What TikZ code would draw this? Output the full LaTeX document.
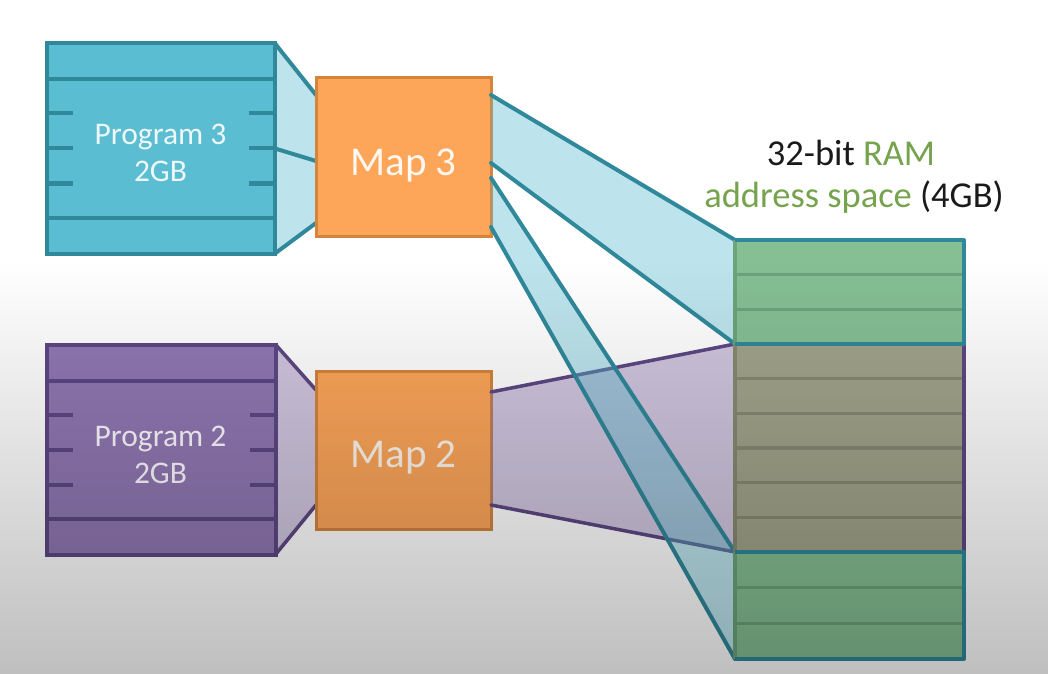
\documentclass[tikz,border=0pt]{standalone}
\usepackage{fontspec}
\setmainfont{Carlito}
\usetikzlibrary{calc,fadings}
\tikzfading[name=fadedown, top color=transparent!100, bottom color=transparent!0]
\definecolor{cyanF}{HTML}{5ABDD2}
\definecolor{cyanD}{HTML}{30899B}
\definecolor{purF}{HTML}{9178B3}
\definecolor{purD}{HTML}{5E4884}
\definecolor{orgF}{HTML}{FDA65A}
\definecolor{orgD}{HTML}{D5843C}
\definecolor{ramG}{HTML}{86BF94}
\definecolor{ramGl}{HTML}{6CA47B}
\definecolor{ramM}{HTML}{A2A48B}
\definecolor{ramMl}{HTML}{878A72}
\definecolor{ramtext}{HTML}{76A34E}
\definecolor{titletext}{HTML}{1A1A1A}
\definecolor{ptextA}{HTML}{EEF8FA}
\definecolor{ptextB}{HTML}{FFFAFF}
\definecolor{mtext}{HTML}{FFF8F0}
\begin{document}
\begin{tikzpicture}[x=1bp,y=-1bp,
  progbox/.style={draw, line width=4bp, minimum width=228bp, minimum height=210bp, inner sep=0pt, outer sep=0pt},
  mapbox/.style={draw=orgD, fill=orgF, line width=3bp, minimum width=175bp, minimum height=158bp, inner sep=0pt, outer sep=0pt},
  ptext/.style={anchor=base, inner sep=0pt, font=\fontsize{31.5bp}{37bp}\selectfont},
  mtextstyle/.style={anchor=base, inner sep=0pt, text=mtext, font=\fontsize{41bp}{48bp}\selectfont},
  ttext/.style={anchor=base, inner sep=0pt, text=titletext, font=\fontsize{36.5bp}{42bp}\selectfont},
  tealline/.style={draw=cyanD, line width=4bp, line cap=round, line join=round},
  purline/.style={draw=purD, line width=3.5bp, line cap=round, line join=round},
  cyanband/.style={fill=cyanF, fill opacity=0.4},
  purband/.style={fill=purF, fill opacity=0.42},
  ramline/.style={line width=3.5bp}
]
\useasboundingbox (0,0) rectangle (1051,674);
\fill[white] (0,0) rectangle (1051,674);

% reference nodes (geometry)
\node[progbox, draw=none] (p3) at (161,148.5) {};
\node[progbox, draw=none] (p2) at (161.5,449.5) {};
\node[mapbox, draw=none, fill=none] (m3) at (403.5,157) {};
\node[mapbox, draw=none, fill=none] (m2) at (403.5,450) {};
\node[inner sep=0pt, outer sep=0pt, minimum width=229bp, minimum height=419bp] (ram) at (849.5,449.5) {};

\coordinate (r1) at ($(ram.north west)+(0,104)$);
\coordinate (r1e) at ($(ram.north east)+(0,104)$);
\coordinate (r2) at ($(ram.north west)+(0,312)$);
\coordinate (r2e) at ($(ram.north east)+(0,312)$);

% funnels program -> map
\coordinate (a1) at ($(m2.north west)+(0,19)$);
\coordinate (a2) at ($(m2.south west)+(0,-24)$);
\fill[purband] (p2.north east) -- (a1) -- (a2) -- (p2.south east) -- cycle;
\draw[purline] (p2.north east) -- (a1);
\draw[purline] (p2.south east) -- (a2);

\coordinate (b1) at ($(m3.north west)+(0,17)$);
\coordinate (b2) at ($(m3.west)+(0,4)$);
\coordinate (b3) at ($(m3.south west)+(0,-13)$);
\fill[cyanband] (p3.north east) -- (b1) -- (b3) -- (p3.south east) -- cycle;
\draw[tealline] (p3.north east) -- (b1);
\draw[tealline] (p3.east) -- (b2);
\draw[tealline] (p3.south east) -- (b3);

% program boxes
\node[progbox, fill=cyanF, draw=cyanD] (p3box) at (p3) {};
\node[progbox, fill=purF, draw=purD] (p2box) at (p2) {};
\foreach \b/\c in {p3/cyanD, p2/purD} {
  \draw[\c, line width=4bp] ($(\b.west)+(0,-69)$) -- ($(\b.east)+(0,-69)$);
  \draw[\c, line width=4bp] ($(\b.west)+(0,69)$) -- ($(\b.east)+(0,69)$);
  \foreach \dy in {-35,0,35} {
    \draw[\c, line width=4bp] ($(\b.west)+(0,\dy)$) -- ++(26,0);
    \draw[\c, line width=4bp] ($(\b.east)+(0,\dy)$) -- ++(-26,0);
  }
}
\node[ptext, text=ptextA] (p3a) at (160.5,145) {Program 3};
\node[ptext, text=ptextA] (p3b) at (160.5,182) {2GB};
\node[ptext, text=ptextB] (p2a) at (160.5,446) {Program 2};
\node[ptext, text=ptextB] (p2b) at (160.5,483) {2GB};

% map boxes
\node[mapbox] (m3box) at (m3) {};
\node[mapbox] (m2box) at (m2) {};
\node[mtextstyle] (m3t) at (403.5,176) {Map 3};
\node[mtextstyle] (m2t) at (403.5,467) {Map 2};

% purple band map2 -> RAM
\coordinate (c1) at ($(m2.north east)+(0,21)$);
\coordinate (c2) at ($(m2.south east)+(0,-24)$);
\fill[purband] (c1) -- (r1) -- (r2) -- (c2) -- cycle;
\draw[purline] (c1) -- (r1);
\draw[purline] (c2) -- (r2);

% cyan bands map3 -> RAM
\coordinate (d1) at ($(m3.north east)+(0,17)$);
\coordinate (d2) at ($(m3.north east)+(0,85)$);
\coordinate (d3) at ($(m3.north east)+(0,100)$);
\coordinate (d4) at ($(m3.south east)+(0,-9)$);
\fill[cyanband] (d1) -- (ram.north west) -- (r1) -- (d2) -- cycle;
\fill[cyanband] (d3) -- (r2) -- (ram.south west) -- (d4) -- cycle;
\draw[tealline] (d1) -- (ram.north west);
\draw[tealline] (d2) -- (r1);
\draw[tealline] (d3) -- (r2);
\draw[tealline] (d4) -- (ram.south west);

% RAM
\fill[ramG] (ram.north west) rectangle (r1e);
\fill[ramM] (r1) rectangle (r2e);
\fill[ramG] (r2) rectangle (ram.south east);
\foreach \k in {1,2} {
  \draw[ramGl, ramline] ($(ram.north west)+(0,34.7*\k)$) -- ++(229,0);
  \draw[ramGl, ramline] ($(r2)+(0,35.7*\k)$) -- ++(229,0);
}
\foreach \k in {1,...,5} {
  \draw[ramMl, ramline] ($(r1)+(0,34.67*\k)$) -- ++(229,0);
}
\draw[ramGl, ramline] (ram.north west) -- (r1);
\draw[ramMl, ramline] (r1) -- (r2);
\draw[ramGl, ramline] (r2) -- (ram.south west);
\draw[purline] (r1e) -- (r2e);
\draw[tealline, line cap=butt] (ram.north west) -- (ram.north east) -- (r1e) -- (r1);
\draw[tealline, line cap=butt] (r2) -- (r2e) -- (ram.south east) -- (ram.south west);

% title
\node[ttext] (t1) at (851,166) {32-bit \textcolor{ramtext}{RAM}};
\node[ttext] (t2) at (854,208) {\textcolor{ramtext}{address space} (4GB)};

% lower darkening gradient
\fill[black, fill opacity=0.25, path fading=fadedown] (0,262) rectangle (1051,674);
\end{tikzpicture}
\end{document}
